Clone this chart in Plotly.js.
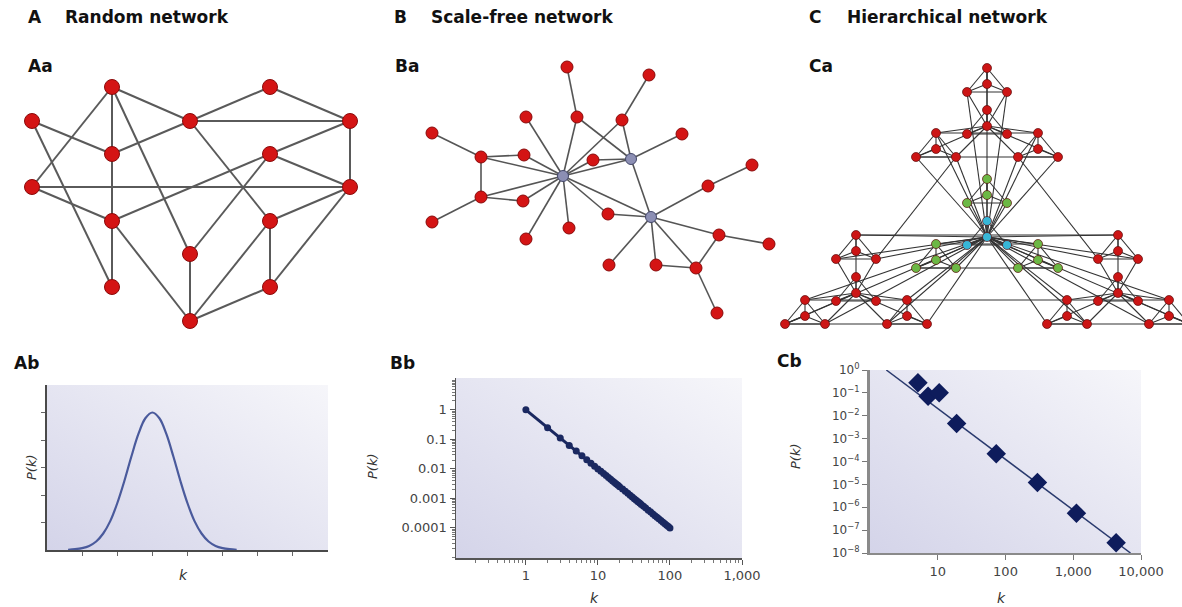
<!DOCTYPE html>
<html><head><meta charset="utf-8">
<script src="https://cdn.plot.ly/plotly-3.0.1.min.js"></script>
<style>html,body{margin:0;padding:0;background:#fff}#chart{width:1182px;height:607px}</style>
</head><body><div id="chart"></div>
<script>
// ---------- Network A (random) ----------
const aNodeX = [112,270,32,190,350,112,270,32,350,112,270,190,112,270,190];
const aNodeY = [87,87,121,121,121,154,154,187,187,221,221,254,287,287,321];
const aEdges = [[0,3],[0,5],[5,9],[9,12],[0,7],[0,11],[1,3],[1,4],[2,5],[2,12],[3,4],[3,5],[3,10],
  [4,8],[9,6],[6,4],[6,8],[6,11],[7,8],[7,9],[8,10],[8,13],[9,14],[10,13],[10,14],[11,14],[13,14]];

// ---------- Network B (scale-free) ----------
const bNodeX = [567,649,526,577,622,432,682,481,524,593,563,631,752,708,481,523,608,651,432,569,526,719,769,609,656,696,717];
const bNodeY = [67,75,117,117,120,133,134,157,155,160,176,159,165,186,197,201,214,217,222,228,239,235,244,265,265,268,313];
const bHubs = [10,11,17];
const bEdges = [[0,3],[3,10],[1,4],[4,10],[4,11],[3,11],[2,10],[6,11],[5,7],[7,8],[7,10],[7,14],[8,10],
  [9,10],[9,11],[10,11],[10,17],[11,17],[14,10],[14,15],[15,10],[18,14],[16,10],[16,17],[19,10],[20,10],
  [17,13],[13,12],[17,21],[21,22],[21,25],[17,23],[17,24],[17,25],[24,25],[25,26]];

// ---------- Network C (hierarchical) ----------
const cModuleAnchors = [[987,68],[987,179],[856,235],[1118,235]]; // top, centre, left, right module
const cUnitOffsets   = [[0,0],[0,42],[-51,65],[51,65]];          // top, centre, left, right unit
const cNodeOffsets   = [[0,0],[0,16],[-20,24],[20,24]];          // top, centre, left, right node
// extra links seen in the drawing, as [module, unit, node] pairs
const cExtraLinks = [
  [[2,0,0],[3,0,0]], [[2,3,0],[3,2,0]], [[0,2,3],[2,0,3]], [[0,3,2],[3,0,2]]
];
const cModuleExtraLinks = [[[2,0],[3,0]], [[2,2],[3,3]]]; // [unit,node] pairs repeated in every module

// ---------- Panel Ab ----------
const abK = [0.6,0.8,1.0,1.2,1.4,1.6,1.8,2.0,2.2,2.4,2.6,2.8,3.0,3.2,3.4,3.6,3.8,4.0,4.2,4.4,4.6,4.8,5.0,5.2,5.4];
const abP = [0.01,0.03,0.07,0.15,0.31,0.6,1.05,1.7,2.5,3.39,4.21,4.79,5.0,4.79,4.21,3.39,2.5,1.7,1.05,0.6,0.31,0.15,0.07,0.03,0.01];

// ---------- Panel Bb ----------
const bbK = [1,2,3,4,5,6,7,8,9,10,11,12,13,14,15,16,17,18,19,20,22,24,26,28,30,32,34,36,38,40,43,46,50,54,58,62,66,70,75,80,85,90,95,100];
const bbP = [1,0.25,0.111,0.0625,0.04,0.0278,0.0204,0.0156,0.0123,0.01,0.00826,0.00694,0.00592,0.0051,0.00444,
  0.0039,0.00346,0.00309,0.00277,0.0025,0.00207,0.00174,0.00148,0.00128,0.00111,0.000977,0.000865,0.000772,
  0.000693,0.000625,0.000541,0.000473,0.0004,0.000343,0.000297,0.00026,0.00023,0.000204,0.000178,0.000156,
  0.000138,0.000123,0.000111,0.0001];
const bbXTicks = [1,10,100,1000], bbXText = ['1','10','100','1,000'];
const bbYTicks = [1,0.1,0.01,0.001,0.0001], bbYText = ['1','0.1','0.01','0.001','0.0001'];

// ---------- Panel Cb ----------
const cbK = [5.1,7.2,10.5,19,73,296,1114,4290];
const cbP = [0.28,0.072,0.1,0.0046,0.00022,0.000012,5.5e-7,2.8e-8];
const cbFitK = [1.74,7000];
const cbFitP = [1,1e-8];
const cbXTicks = [10,100,1000,10000], cbXText = ['10','100','1,000','10,000'];
const cbYTicks = [1,1e-1,1e-2,1e-3,1e-4,1e-5,1e-6,1e-7,1e-8];
const cbYText = ['10<sup>0</sup>','10<sup>−1</sup>','10<sup>−2</sup>','10<sup>−3</sup>','10<sup>−4</sup>','10<sup>−5</sup>','10<sup>−6</sup>','10<sup>−7</sup>','10<sup>−8</sup>'];

// ================= build =================
const W = 1182, H = 607;
const px = v => v / W, py = v => 1 - v / H;

function edgeXY(nx, ny, edges) {
  const x = [], y = [];
  edges.forEach(([a, b]) => { x.push(nx[a], nx[b], null); y.push(ny[a], ny[b], null); });
  return {x, y};
}

const cNodeX = [], cNodeY = [], cColor = [];
for (let m = 0; m < 4; m++) for (let u = 0; u < 4; u++) for (let n = 0; n < 4; n++) {
  cNodeX.push(cModuleAnchors[m][0] + cUnitOffsets[u][0] + cNodeOffsets[n][0]);
  cNodeY.push(cModuleAnchors[m][1] + cUnitOffsets[u][1] + cNodeOffsets[n][1]);
  cColor.push(m === 1 ? (u === 1 ? '#38b6d6' : '#6cb845') : '#cc1515');
}
const cid = (m, u, n) => m * 16 + u * 4 + n;
const cEdges = [];
const periph = [0, 2, 3];
for (let m = 0; m < 4; m++) for (let u = 0; u < 4; u++) {
  [[0,1],[0,2],[0,3],[1,2],[1,3],[2,3]].forEach(([a,b]) => cEdges.push([cid(m,u,a), cid(m,u,b)]));
}
for (let m = 0; m < 4; m++) periph.forEach(u => periph.forEach(n => cEdges.push([cid(m,u,n), cid(m,1,1)])));
periph.forEach(m => periph.forEach(u => periph.forEach(n => cEdges.push([cid(m,u,n), cid(1,1,1)]))));
cExtraLinks.forEach(([a, b]) => cEdges.push([cid(...a), cid(...b)]));
for (let m = 0; m < 4; m++) cModuleExtraLinks.forEach(([a, b]) => cEdges.push([cid(m, ...a), cid(m, ...b)]));

const aE = edgeXY(aNodeX, aNodeY, aEdges);
const bE = edgeXY(bNodeX, bNodeY, bEdges);
const cE = edgeXY(cNodeX, cNodeY, cEdges);

const traces = [
  {x: aE.x, y: aE.y, mode: 'lines', line: {color: '#5a5a5a', width: 2}, xaxis: 'x', yaxis: 'y', hoverinfo: 'skip'},
  {x: aNodeX, y: aNodeY, mode: 'markers', marker: {size: 15, opacity: 1, color: '#d41414', line: {color: '#8a0a0a', width: 1}}, xaxis: 'x', yaxis: 'y'},
  {x: bE.x, y: bE.y, mode: 'lines', line: {color: '#555', width: 1.6}, xaxis: 'x', yaxis: 'y', hoverinfo: 'skip'},
  {x: bNodeX, y: bNodeY, mode: 'markers', xaxis: 'x', yaxis: 'y',
   marker: {opacity: 1, size: bNodeX.map((_, i) => bHubs.includes(i) ? 11 : 12),
            color: bNodeX.map((_, i) => bHubs.includes(i) ? '#8c8fb4' : '#d41414'),
            line: {color: bNodeX.map((_, i) => bHubs.includes(i) ? '#44486a' : '#8a0a0a'), width: 1}}},
  {x: cE.x, y: cE.y, mode: 'lines', line: {color: '#333', width: 1.1}, xaxis: 'x', yaxis: 'y', hoverinfo: 'skip'},
  {x: cNodeX, y: cNodeY, mode: 'markers', marker: {size: 9, opacity: 1, color: cColor, line: {color: '#5a0a0a', width: 0.7}}, xaxis: 'x', yaxis: 'y'},
  {x: abK, y: abP, mode: 'lines', line: {color: '#4a5a9c', width: 2.2, shape: 'spline'}, xaxis: 'x2', yaxis: 'y2'},
  {x: bbK, y: bbP, mode: 'lines+markers', line: {color: '#1a2860', width: 3}, marker: {size: 7, color: '#1a2860', opacity: 1}, xaxis: 'x3', yaxis: 'y3'},
  {x: cbFitK, y: cbFitP, mode: 'lines', line: {color: '#2a3a6e', width: 1.5}, xaxis: 'x4', yaxis: 'y4'},
  {x: cbK, y: cbP, mode: 'markers', marker: {symbol: 'diamond', size: 15, opacity: 1, color: '#0e1c5c'}, xaxis: 'x4', yaxis: 'y4'}
];

const tickFont = {family: 'DejaVu Sans', size: 13, color: '#444'};
const grad = 'data:image/svg+xml;utf8,' + encodeURIComponent(
  '<svg xmlns="http://www.w3.org/2000/svg" width="200" height="200" viewBox="0 0 200 200" preserveAspectRatio="none">' +
  '<defs><linearGradient id="g" x1="0" y1="1" x2="1" y2="0"><stop offset="0" stop-color="#d4d4e9"/>' +
  '<stop offset="1" stop-color="#f6f6fa"/></linearGradient></defs><rect width="200" height="200" fill="url(#g)"/></svg>');
const bgImg = (xa, ya) => ({source: grad, xref: xa + ' domain', yref: ya + ' domain', x: 0, y: 1, sizex: 1, sizey: 1,
  xanchor: 'left', yanchor: 'top', sizing: 'stretch', layer: 'below'});

const bold = {family: 'DejaVu Sans', size: 17, color: '#111', weight: 'bold'};
const ann = (text, x, y, font) => ({text, x: px(x), y: py(y), xref: 'paper', yref: 'paper', xanchor: 'left', yanchor: 'middle', showarrow: false, font});
const axTitle = {family: 'DejaVu Sans', size: 13, color: '#333', style: 'italic'};
const axAnn = (text, x, y, angle, size) => ({text, x: px(x), y: py(y), xref: 'paper', yref: 'paper', xanchor: 'center', yanchor: 'middle',
  textangle: angle, showarrow: false, font: {...axTitle, size}});

const layout = {
  width: W, height: H, margin: {l: 0, r: 0, t: 0, b: 0},
  paper_bgcolor: '#fff', plot_bgcolor: 'rgba(0,0,0,0)', showlegend: false,
  xaxis: {domain: [0, 1], range: [0, W], visible: false, fixedrange: true},
  yaxis: {domain: [py(340), 1], range: [340, 0], visible: false, fixedrange: true},
  xaxis2: {domain: [px(47), px(328)], range: [0, 8], anchor: 'y2', showline: true, linecolor: '#4a4a4a', linewidth: 2,
    ticks: 'outside', tickmode: 'array', tickvals: [1,2,3,4,5,6,7], ticklen: 4, tickcolor: '#666', showticklabels: false, showgrid: false, zeroline: false},
  yaxis2: {domain: [py(550), py(385)], range: [0, 6], anchor: 'x2', showline: true, linecolor: '#4a4a4a', linewidth: 2,
    ticks: 'outside', tickmode: 'array', tickvals: [1,2,3,4,5], ticklen: 4, tickcolor: '#666', showticklabels: false, showgrid: false, zeroline: false},
  xaxis3: {type: 'log', domain: [px(456), px(742)], range: [-0.97, 3], anchor: 'y3', showline: true, linecolor: '#555', linewidth: 1.5,
    ticks: 'outside', ticklen: 5, tickcolor: '#555', tickmode: 'array', tickvals: bbXTicks, ticktext: bbXText, tickfont: tickFont,
    minor: {ticks: 'outside', ticklen: 3, tickcolor: '#777', dtick: 'D1', showgrid: false}, showgrid: false, zeroline: false},
  yaxis3: {type: 'log', domain: [py(558), py(378)], range: [-5.02, 1.08], anchor: 'x3', showline: true, linecolor: '#555', linewidth: 1.5,
    ticks: 'outside', ticklen: 5, tickcolor: '#555', tickmode: 'array', tickvals: bbYTicks, ticktext: bbYText, tickfont: tickFont,
    minor: {ticks: 'outside', ticklen: 3, tickcolor: '#777', dtick: 'D1', showgrid: false}, showgrid: false, zeroline: false},
  xaxis4: {type: 'log', domain: [px(870), px(1141)], range: [0, 4], anchor: 'y4', showline: true, linecolor: '#8a8a8a', linewidth: 2,
    ticks: 'outside', ticklen: 5, tickcolor: '#777', tickmode: 'array', tickvals: cbXTicks, ticktext: cbXText, tickfont: tickFont,
    showgrid: false, zeroline: false},
  yaxis4: {type: 'log', domain: [py(553), py(370)], range: [-8, 0], anchor: 'x4', showline: true, linecolor: '#8a8a8a', linewidth: 3,
    ticks: 'outside', ticklen: 5, tickcolor: '#777', tickmode: 'array', tickvals: cbYTicks, ticktext: cbYText, tickfont: {family: 'DejaVu Sans', size: 12, color: '#444'},
    showgrid: false, zeroline: false},
  images: [bgImg('x2','y2'), bgImg('x3','y3'), bgImg('x4','y4')],
  annotations: [
    ann('A', 26, 17, bold), ann('Random network', 63, 17, bold),
    ann('B', 392, 17, bold), ann('Scale-free network', 429, 17, bold),
    ann('C', 807, 17, bold), ann('Hierarchical network', 845, 17, bold),
    ann('Aa', 26, 66, bold), ann('Ba', 393, 66, bold), ann('Ca', 807, 66, bold),
    ann('Ab', 12, 363, bold), ann('Bb', 388, 363, bold), ann('Cb', 775, 361, bold),
    axAnn('P(k)', 32, 467, -90, 13), axAnn('P(k)', 372, 466, -90, 13), axAnn('P(k)', 795, 456, -90, 13),
    axAnn('k', 183, 575, 0, 14), axAnn('k', 594, 598, 0, 14), axAnn('k', 1001, 598, 0, 14)
  ]
};

Plotly.newPlot('chart', traces, layout, {staticPlot: true, displayModeBar: false});
</script></body></html>
